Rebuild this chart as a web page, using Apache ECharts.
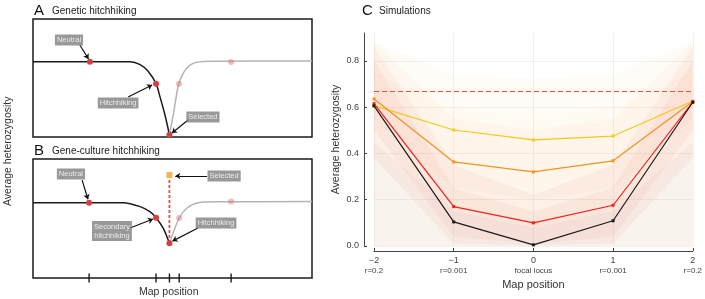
<!DOCTYPE html>
<html>
<head>
<meta charset="utf-8">
<script src="https://cdn.jsdelivr.net/npm/echarts@6/dist/echarts.min.js"></script>
<style>
  html, body { margin: 0; padding: 0; background: #fff; }
  #chart { width: 705px; height: 299px; }
</style>
</head>
<body>
<div id="chart"></div>
<script>
// panel C: simulations
const mapPos = [-2, -1, 0, 1, 2];
const tickNums = ["\u22122", "\u22121", "0", "1", "2"];
const tickRecomb = ["r=0.2", "r=0.001", "focal locus", "r=0.001", "r=0.2"];
const hetBlack = [0.605, 0.104, 0.005, 0.109, 0.621];
const hetRed = [0.615, 0.17, 0.10, 0.176, 0.622];
const hetOrange = [0.635, 0.363, 0.32, 0.368, 0.624];
const hetYellow = [0.606, 0.501, 0.458, 0.475, 0.626];
const neutralExpect = 0.667;
// envelopes of the faint simulation runs
const zeroLow = [0, 0, 0, 0, 0];
const hazeHigh = [0.88, 0.74, 0.72, 0.74, 0.88];
const hazeInnerHigh = [0.75, 0.6, 0.55, 0.6, 0.75];
const grayHigh = [0.45, 0.15, 0.08, 0.15, 0.45];
const plumeLow = [0.55, 0.25, 0.2, 0.25, 0.55];
const plumeHigh = [0.88, 0.55, 0.5, 0.55, 0.88];
const redLow = [0.38, 0.01, 0, 0.01, 0.38];
const redHigh = [0.86, 0.35, 0.22, 0.35, 0.86];
const redInnerLow = [0.5, 0.04, 0.01, 0.04, 0.5];
const redInnerHigh = [0.8, 0.25, 0.15, 0.25, 0.8];

// panel A: genetic hitchhiking (box units 0-100)
const curveA = [[0, 63.8], [34.8, 63.8], [38.4, 61.4], [41.2, 55.9], [44.1, 45.2], [45.5, 34.2], [47.3, 18.6], [48.9, 1.9]];
const curveAright = [[48.9, 1.9], [50.5, 22], [52.3, 45.2], [55.1, 58.2], [58.7, 63.3], [65, 64.2], [100, 64.4]];
const pointsA = [[20.4, 63.8], [44.1, 45.2], [48.9, 1.9]];
const fadedA = [[52.3, 45.2], [71.0, 63.6]];
const labelsA = [["Neutral", 12.9, 82.2], ["Hitchhiking", 30.5, 28.8], ["Selected", 60.9, 16.9]];
const arrowsA = [[[16.8, 78.0], [19.9, 66.1]], [[34.1, 33.9], [42.7, 44.1]], [[55.6, 14.4], [49.8, 3.4]]];

// panel B: gene-culture hitchhiking
const curveB = [[0, 63.3], [32.3, 63.3], [38.4, 60.0], [41.9, 55.7], [44.1, 50.7], [46.7, 41.7], [48.9, 29.1]];
const curveBright = [[48.9, 29.1], [52.4, 50.4], [55.1, 58.6], [59.2, 63.3], [66, 64.1], [100, 64.2]];
const pointsB = [[20.1, 63.3], [44.1, 50.7], [48.9, 29.1]];
const fadedB = [[52.4, 50.4], [71.0, 64.2]];
const cultureB = [[48.9, 86.5]];
const dropB = [[48.9, 86.5], [48.9, 29.1]];
const labelsB = [["Neutral", 13.6, 87.4], ["Selected", 68.5, 85.7], ["Secondary\nhitchhiking", 28.3, 39.4], ["Hitchhiking", 65.6, 46.2]];
const arrowsB = [[[17.6, 82.3], [19.7, 66.2]], [[62.4, 85.7], [51.0, 85.7]], [[34.8, 42.0], [43.0, 49.6]], [[59.1, 42.0], [50.0, 31.0]]];
const ticksB = [20.1, 44.1, 48.9, 52.4, 71.0];

const chart = echarts.init(document.getElementById("chart"));

function pairs(vals) {
  return mapPos.map((x, i) => [x, vals[i]]);
}

// one quad per segment between neighbouring map positions
function band(low, high, color) {
  const segs = [];
  for (let i = 0; i < mapPos.length - 1; i++) {
    segs.push([mapPos[i], low[i], high[i], mapPos[i + 1], low[i + 1], high[i + 1]]);
  }
  return {
    type: "custom", xAxisIndex: 2, yAxisIndex: 2, data: segs, silent: true, z: 1,
    renderItem: function (params, api) {
      const x0 = api.value(0), x1 = api.value(3);
      const pts = [
        api.coord([x0, api.value(2)]),
        api.coord([x1, api.value(5)]),
        api.coord([x1, api.value(4)]),
        api.coord([x0, api.value(1)])
      ];
      return { type: "polygon", shape: { points: pts }, style: { fill: color } };
    }
  };
}

function mainLine(vals, color) {
  return {
    type: "line", xAxisIndex: 2, yAxisIndex: 2, data: pairs(vals),
    symbol: "rect", symbolSize: 3, showSymbol: true,
    lineStyle: { color: color, width: 1.2 }, itemStyle: { color: color }, z: 5
  };
}

function boxLabels(list, idx) {
  return {
    type: "scatter", xAxisIndex: idx, yAxisIndex: idx, symbolSize: 1, clip: false,
    itemStyle: { color: "transparent" }, z: 6,
    data: list.map(l => ({ value: [l[1], l[2]], name: l[0] })),
    label: {
      show: true, position: "inside", formatter: "{b}", color: "#fff",
      fontSize: 7.5, lineHeight: 9, align: "center",
      backgroundColor: "#808080", padding: [1, 2]
    }
  };
}

function arrows(list, idx) {
  return {
    type: "lines", coordinateSystem: "cartesian2d", xAxisIndex: idx, yAxisIndex: idx,
    data: list.map(a => ({ coords: a })), symbol: ["none", "arrow"], symbolSize: 5,
    lineStyle: { color: "#111", width: 1.2, opacity: 1 }, z: 6
  };
}

function curve(data, idx, color) {
  return {
    type: "line", xAxisIndex: idx, yAxisIndex: idx, data: data, smooth: 0.3,
    symbol: "none", lineStyle: { color: color, width: 1.5 }
  };
}

function dots(data, idx, color, size, symbol) {
  return {
    type: "scatter", xAxisIndex: idx, yAxisIndex: idx, data: data, clip: false,
    symbol: symbol || "circle", symbolSize: size, itemStyle: { color: color, opacity: 1 }, z: 4
  };
}

const boxAxis = { type: "value", min: 0, max: 100, show: false };

const option = {
  animation: false,
  textStyle: { fontFamily: "Liberation Sans, Arial, sans-serif" },
  grid: [
    { left: 33, top: 19, width: 279, height: 118, show: true, borderColor: "#1a1a1a", borderWidth: 1.5 },
    { left: 33, top: 159, width: 279, height: 119, show: true, borderColor: "#1a1a1a", borderWidth: 1.5 },
    { left: 374, top: 33, right: 10, bottom: 53 }
  ],
  xAxis: [
    Object.assign({ gridIndex: 0 }, boxAxis),
    Object.assign({ gridIndex: 1 }, boxAxis),
    {
      gridIndex: 2, type: "value", min: -2, max: 2, interval: 1, offset: 5,
      axisLine: { onZero: false, lineStyle: { color: "#444", width: 1 } },
      axisTick: { show: true, inside: true, length: 3, lineStyle: { color: "#444" } },
      splitLine: { show: true, lineStyle: { color: "#ececec", width: 0.8 } },
      axisLabel: {
        margin: 4,
        formatter: function (v) {
          const i = mapPos.indexOf(v);
          return "{a|" + tickNums[i] + "}\n{b|" + tickRecomb[i] + "}";
        },
        rich: {
          a: { fontSize: 9, color: "#444", lineHeight: 11 },
          b: { fontSize: 8, color: "#444", lineHeight: 10 }
        }
      },
      name: "Map position", nameLocation: "middle", nameGap: 28,
      nameTextStyle: { fontSize: 11, color: "#333" }
    }
  ],
  yAxis: [
    Object.assign({ gridIndex: 0 }, boxAxis),
    Object.assign({ gridIndex: 1 }, boxAxis),
    {
      gridIndex: 2, type: "value", min: 0, max: 0.92, interval: 0.2, offset: 10,
      axisLine: { show: true, onZero: false, lineStyle: { color: "#444", width: 1 } },
      axisTick: { show: true, inside: true, length: 3, lineStyle: { color: "#444" } },
      splitLine: { show: true, showMaxLine: false, lineStyle: { color: "#ececec", width: 0.8 } },
      axisLabel: { fontSize: 9, color: "#444", margin: 5, showMaxLabel: false, formatter: v => v.toFixed(1) },
      name: "Average heterozygosity", nameLocation: "middle", nameGap: 22,
      nameTextStyle: { fontSize: 10.5, color: "#333" }
    }
  ],
  graphic: [
    { type: "text", left: 34, top: 3, style: { text: "A", fontSize: 15, fill: "#111", fontFamily: "Liberation Sans" } },
    { type: "text", left: 52, top: 6, style: { text: "Genetic hitchhiking", fontSize: 10, fill: "#222", fontFamily: "Liberation Sans" } },
    { type: "text", left: 34, top: 143, style: { text: "B", fontSize: 15, fill: "#111", fontFamily: "Liberation Sans" } },
    { type: "text", left: 52, top: 146, style: { text: "Gene-culture hitchhiking", fontSize: 10, fill: "#222", fontFamily: "Liberation Sans" } },
    { type: "text", left: 362, top: 3, style: { text: "C", fontSize: 15, fill: "#111", fontFamily: "Liberation Sans" } },
    { type: "text", left: 379, top: 6, style: { text: "Simulations", fontSize: 10, fill: "#222", fontFamily: "Liberation Sans" } },
    { type: "text", left: 139, top: 287, style: { text: "Map position", fontSize: 10.5, fill: "#333", fontFamily: "Liberation Sans" } },
    {
      type: "text", x: 3, y: 206, rotation: Math.PI / 2,
      style: { text: "Average heterozygosity", fontSize: 10.5, fill: "#333", fontFamily: "Liberation Sans" }
    }
  ],
  series: [
    // panel A
    curve(curveA, 0, "#1a1a1a"),
    curve(curveAright, 0, "#b4b4b4"),
    dots(fadedA, 0, "rgba(225,120,120,0.5)", 6),
    dots(pointsA, 0, "#d6403e", 6),
    arrows(arrowsA, 0),
    boxLabels(labelsA, 0),
    // panel B
    curve(curveB, 1, "#1a1a1a"),
    curve(curveBright, 1, "#b4b4b4"),
    {
      type: "line", xAxisIndex: 1, yAxisIndex: 1, data: dropB, symbol: "none",
      lineStyle: { color: "#ef4a3a", width: 1.8, type: [3, 2] }, z: 3
    },
    dots(fadedB, 1, "rgba(225,120,120,0.5)", 6),
    dots(pointsB, 1, "#d6403e", 6),
    dots(cultureB, 1, "#f1b64e", 6, "rect"),
    dots(ticksB.map(x => [x, 0]), 1, "#1a1a1a", [1.4, 9], "rect"),
    arrows(arrowsB, 1),
    boxLabels(labelsB, 1),
    // panel C
    band(zeroLow, hazeHigh, "rgba(252,210,150,0.07)"),
    band(zeroLow, hazeInnerHigh, "rgba(252,200,140,0.06)"),
    band(zeroLow, grayHigh, "rgba(130,120,130,0.05)"),
    band(plumeLow, plumeHigh, "rgba(240,150,90,0.05)"),
    band(redLow, redHigh, "rgba(230,110,90,0.07)"),
    band(redInnerLow, redInnerHigh, "rgba(225,90,70,0.07)"),
    {
      type: "line", xAxisIndex: 2, yAxisIndex: 2, data: [], symbol: "none",
      markLine: {
        silent: true, symbol: "none", label: { show: false },
        lineStyle: { color: "#e8503a", width: 1, type: [5, 3] },
        data: [{ yAxis: neutralExpect }]
      }
    },
    mainLine(hetYellow, "#f6c81c"),
    mainLine(hetOrange, "#f5931f"),
    mainLine(hetRed, "#f0211c"),
    mainLine(hetBlack, "#1a1a1a")
  ]
};

chart.setOption(option);
</script>
</body>
</html>
